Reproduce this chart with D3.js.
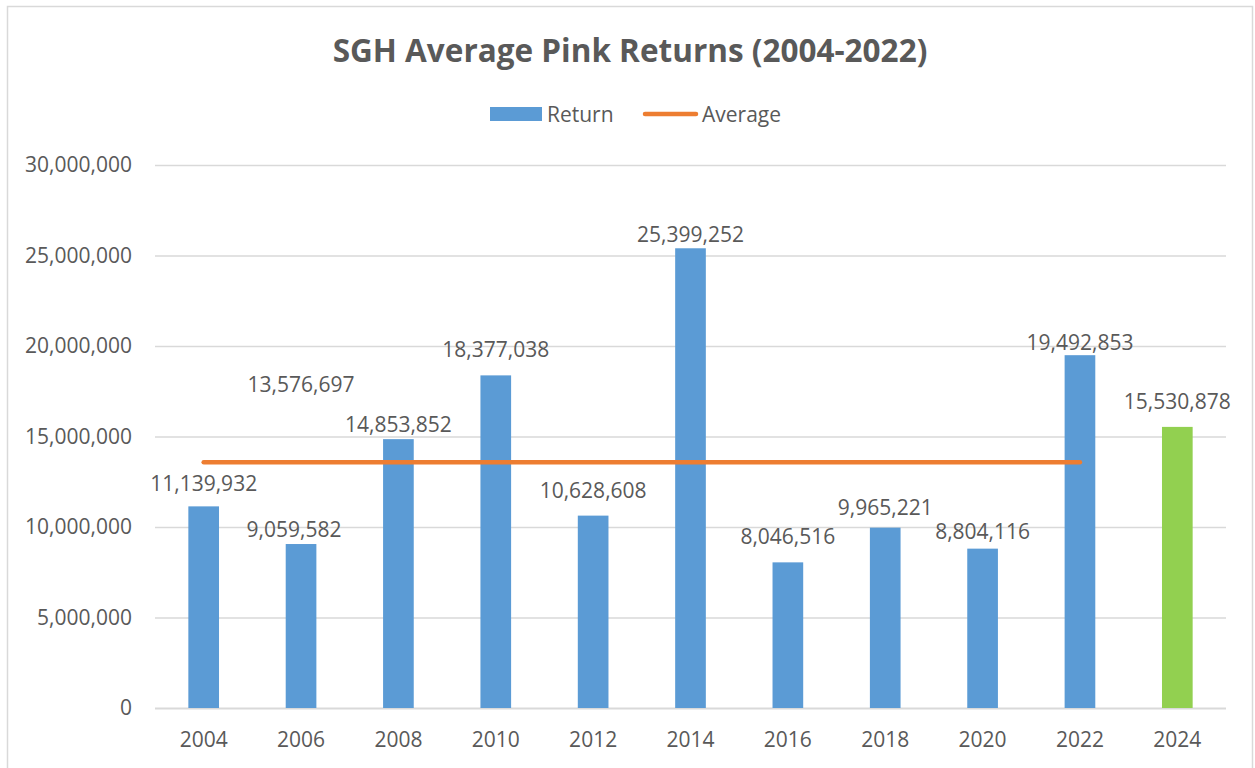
<!DOCTYPE html>
<html>
<head>
<meta charset="utf-8">
<script src="https://cdn.jsdelivr.net/npm/d3@7"></script>
<style>
  body { margin: 0; background: #fff; }
  svg text { font-family: "Open Sans", sans-serif; fill: #595959; }
</style>
</head>
<body>
<div id="chartDiv"></div>
<script>
// chart data
var years = ["2004", "2006", "2008", "2010", "2012", "2014", "2016", "2018", "2020", "2022", "2024"];
var returns = [11139932, 9059582, 14853852, 18377038, 10628608, 25399252, 8046516, 9965221, 8804116, 19492853, 15530878];
var averageValue = 13576697;
var averageYears = ["2004", "2006", "2008", "2010", "2012", "2014", "2016", "2018", "2020", "2022"];
var yTicks = [0, 5000000, 10000000, 15000000, 20000000, 25000000, 30000000];
var projectedYear = "2024";

// label nudges (pixels above the bar top), moved by hand in the original
var labelLift = [15, 7, 7, 18, 18, 6, 18, 13, 10, 5, 18];
var labelShift = [0, -7, 0, 0, 0, 0, 0, 0, 0, 0, 0];

var W = 1255, H = 768;
var margin = {top: 165, right: 29, bottom: 60, left: 155},
    width = W - margin.left - margin.right,
    height = H - margin.top - margin.bottom;

var fmt = d3.format(",");

var svg = d3.select("#chartDiv")
  .append("svg")
    .attr("width", W)
    .attr("height", H);

// chart border
svg.append("rect")
  .attr("x", 7.5).attr("y", 6.5)
  .attr("width", 1245).attr("height", 790)
  .attr("fill", "none")
  .attr("stroke", "#d9d9d9")
  .attr("stroke-width", 1.5);

// title, fit to the width it has in the original
var title = svg.append("text")
  .attr("x", 630).attr("y", 62)
  .attr("text-anchor", "middle")
  .style("font-weight", "bold")
  .style("font-size", "30px")
  .text("SGH Average Pink Returns (2004-2022)");
var tl = title.node().getComputedTextLength();
title.style("font-size", (30 * 595 / tl) + "px");

// legend
var legend = svg.append("g").style("font-size", "21px");
legend.append("rect")
  .attr("x", 490).attr("y", 107).attr("width", 52).attr("height", 14)
  .attr("fill", "#5b9bd5");
legend.append("text").attr("x", 547).attr("y", 122).text("Return");
legend.append("line")
  .attr("x1", 645).attr("x2", 696).attr("y1", 114).attr("y2", 114)
  .attr("stroke", "#ed7d31").attr("stroke-width", 4.5)
  .attr("stroke-linecap", "round");
legend.append("text").attr("x", 702).attr("y", 122).text("Average");

var g = svg.append("g")
  .attr("transform", "translate(" + margin.left + "," + margin.top + ")");

// scales
var x = d3.scaleBand()
  .domain(years)
  .range([0, width])
  .paddingInner(0.685)
  .paddingOuter(0.3425);
var y = d3.scaleLinear()
  .domain([0, 30000000])
  .range([height, 0]);

// y axis with gridlines
var yAxis = g.append("g")
  .attr("class", "yaxis")
  .call(d3.axisLeft(y).tickValues(yTicks).tickFormat(fmt).tickSize(-width).tickPadding(23));
yAxis.select(".domain").remove();
yAxis.selectAll("line")
  .attr("stroke", "#d9d9d9")
  .attr("stroke-width", function(d) { return d === 0 ? 2 : 1.3; });
yAxis.selectAll("text")
  .style("font-size", "21px")
  .attr("fill", "#595959");

// x axis
var xAxis = g.append("g")
  .attr("class", "xaxis")
  .attr("transform", "translate(0," + height + ")")
  .call(d3.axisBottom(x).tickSize(0));
xAxis.select(".domain").remove();
xAxis.selectAll("text")
  .style("font-size", "21px")
  .attr("fill", "#595959")
  .attr("y", 39)
  .attr("dy", null);

// bars
var data = years.map(function(d, i) { return {year: d, value: returns[i], i: i}; });
g.selectAll(".bar")
  .data(data)
  .enter().append("rect")
    .attr("class", "bar")
    .attr("x", function(d) { return x(d.year); })
    .attr("width", x.bandwidth())
    .attr("y", function(d) { return y(d.value); })
    .attr("height", function(d) { return height - y(d.value); })
    .attr("fill", function(d) { return d.year === projectedYear ? "#92d050" : "#5b9bd5"; });

// average line
var avgLine = d3.line()
  .x(function(d) { return x(d) + x.bandwidth() / 2; })
  .y(function() { return y(averageValue); });
g.append("path")
  .attr("d", avgLine(averageYears))
  .attr("fill", "none")
  .attr("stroke", "#ed7d31")
  .attr("stroke-width", 4.5)
  .attr("stroke-linecap", "round");

// bar labels
g.selectAll(".label")
  .data(data)
  .enter().append("text")
    .attr("class", "label")
    .attr("x", function(d) { return x(d.year) + x.bandwidth() / 2 + labelShift[d.i]; })
    .attr("y", function(d) { return y(d.value) - labelLift[d.i]; })
    .attr("text-anchor", "middle")
    .style("font-size", "21px")
    .text(function(d) { return fmt(d.value); });

// average label, sits well above the line at 2006
g.append("text")
  .attr("x", x(averageYears[1]) + x.bandwidth() / 2)
  .attr("y", y(averageValue) - 70)
  .attr("text-anchor", "middle")
  .style("font-size", "21px")
  .text(fmt(averageValue));
</script>
</body>
</html>
